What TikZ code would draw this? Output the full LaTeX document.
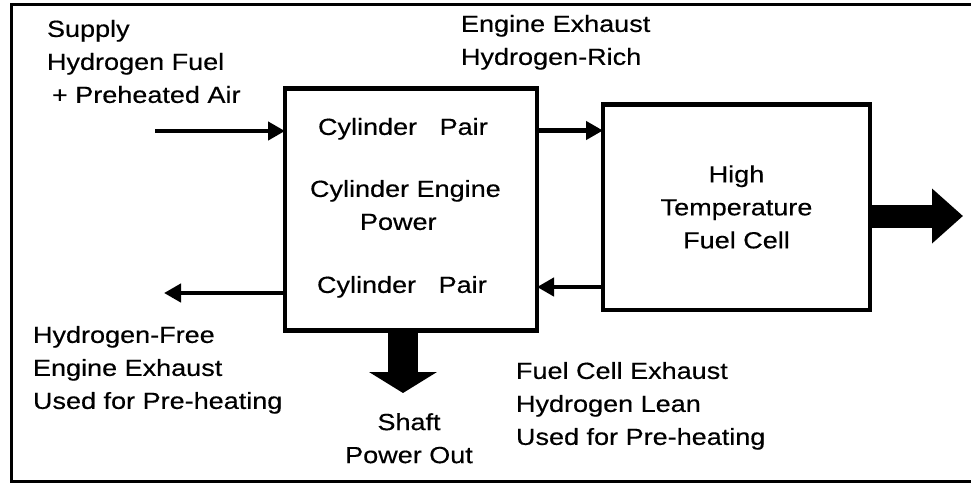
\documentclass[tikz,border=0pt]{standalone}
\usepackage{fontspec}
\setmainfont{Liberation Sans}[FakeStretch=1.16, FakeBold=0.4]
\usepackage{tikz}
\usetikzlibrary{arrows.meta, positioning, calc}

\begin{document}
\begin{tikzpicture}[
  x=1pt, y=-1pt,
  font={\fontsize{23.3}{33}\selectfont},
  box/.style={draw, line width=4.5pt, inner sep=0pt, outer sep=0pt, align=center},
  lbl/.style={inner sep=0pt, outer sep=0pt, align=left, anchor=north west},
  ar/.style={-{Triangle[length=17pt, width=18pt]}, line width=4.5pt},
  fat/.style={line width=#1}
]
\useasboundingbox (0,0) rectangle (971,483);
\fill[white] (0,0) rectangle (971,483);

% outer frame, right side cut off
\draw[line width=3pt] (971,4.5) -| (11,481.5) -- (971,481.5);

% boxes
\node[box, minimum width=252pt, minimum height=242pt] (eng) at (411,209.5) {};
\node[box, minimum width=267pt, minimum height=205.5pt] (fc) at (736.5,207) {High\\Temperature\\Fuel Cell};

% texts
\node[lbl] (supply) at (47,20) {Supply\\Hydrogen Fuel\\\hspace*{5pt}+ Preheated Air};
\node[lbl] (rich) at (461,15) {Engine Exhaust\\Hydrogen-Rich};
\node[lbl] (cpin) at (318,118) {Cylinder~~~Pair};
\node[lbl] (engtxt) at (310,180) {Cylinder Engine\\\hspace*{50pt}Power};
\node[lbl] (cpout) at (317,276) {Cylinder~~~Pair};
\node[lbl] (free) at (33,326) {Hydrogen-Free\\Engine Exhaust\\Used for Pre-heating};
\node[lbl] (lean) at (516,362) {Fuel Cell Exhaust\\Hydrogen Lean\\Used for Pre-heating};
\node[inner sep=0pt, align=center, anchor=north] (shaft) at (409,413) {Shaft\\Power Out};

% free ends
\coordinate (inA) at (155,131);
\coordinate (rowA) at (0,130.5);
\coordinate (rowR) at (0,287);
\coordinate (outL) at (164,293);
\coordinate (bigR) at (963,216);
\coordinate (bigD) at (403,393);

\draw[ar] (inA) -- (inA -| eng.west);
\draw[ar] (eng.east |- rowA) -- (fc.west |- rowA);
\draw[ar] (fc.west |- rowR) -- (eng.east |- rowR);
\draw[ar] (eng.west |- outL) -- (outL);
\draw[fat=23pt, -{Triangle[length=31pt, width=53pt]}] (fc.east |- bigR) -- (bigR);
\draw[fat=30pt, -{Triangle[length=21pt, width=67pt]}] (eng.south -| bigD) -- (bigD);
\end{tikzpicture}
\end{document}
